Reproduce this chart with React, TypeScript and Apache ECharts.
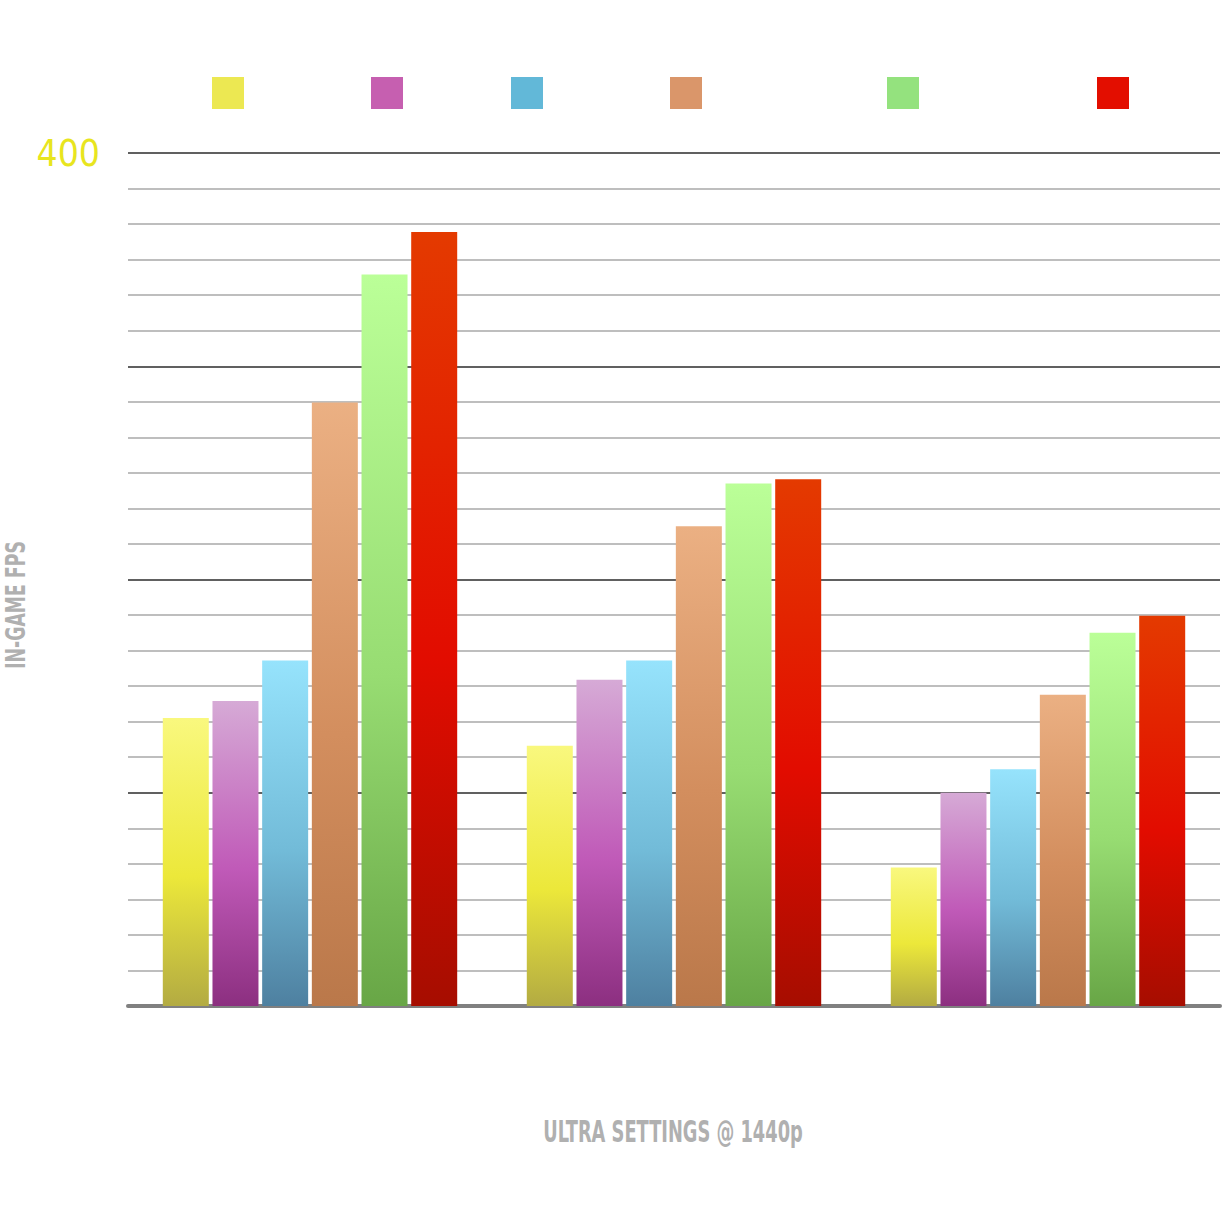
import React, { useEffect, useRef } from "react";
import * as echarts from "echarts";

const categories = ["Game 1", "Game 2", "Game 3"];
const seriesNames = ["GPU A", "GPU B", "GPU C", "GPU D", "GPU E", "GPU F"];
const yellowValues = [135, 122, 65];
const purpleValues = [143, 153, 100];
const blueValues = [162, 162, 111];
const orangeValues = [283, 225, 146];
const greenValues = [343, 245, 175];
const redValues = [363, 247, 183];
const yTicks = [0, 100, 200, 300, 400];
const xAxisTitle = "ULTRA SETTINGS @ 1440p";
const yAxisTitle = "IN-GAME FPS";

const legendColors = ["#ece852", "#c65fb0", "#62b8d8", "#da966a", "#94e27e", "#e30e00"];
const gradients = [
  ["#f9f87e", "#ece83a", "#b3ab42"],
  ["#d6aad6", "#c05ab8", "#8c2f80"],
  ["#96e3fc", "#72bbd8", "#4e80a0"],
  ["#ebb083", "#d38e5e", "#ba784a"],
  ["#bbff98", "#97dc72", "#68a646"],
  ["#e43a00", "#e20c00", "#a60d00"],
];
const legendLefts = [212, 371, 511, 670, 887, 1097];

const FONT = "'DejaVu Sans Condensed', 'DejaVu Sans', sans-serif";

export default function App() {
  const ref = useRef<HTMLDivElement>(null);
  useEffect(() => {
    document.body.style.margin = "0";
    if (!ref.current) return;
    const chart = echarts.init(ref.current, null, { renderer: "svg" });
    const values = [yellowValues, purpleValues, blueValues, orangeValues, greenValues, redValues];
    chart.setOption({
      animation: false,
      backgroundColor: "#ffffff",
      grid: { left: 128, right: 8, top: 153, bottom: 214, containLabel: false },
      legend: seriesNames.map((n, i) => ({
        data: [{ name: n, itemStyle: { color: legendColors[i] } }],
        left: legendLefts[i] - 5,
        top: 72,
        itemWidth: 32,
        itemHeight: 32,
        icon: "rect",
        textStyle: { color: "#ffffff", fontSize: 22, fontFamily: FONT },
        selectedMode: false,
      })),
      xAxis: {
        type: "category",
        data: categories,
        axisLine: { show: true, lineStyle: { color: "#808080", width: 4 } },
        axisTick: { show: false },
        axisLabel: { color: "#ffffff", fontSize: 22, margin: 50, fontFamily: FONT },
        splitLine: { show: false },
      },
      yAxis: {
        type: "value",
        min: yTicks[0],
        max: yTicks[yTicks.length - 1],
        interval: 100,
        axisLine: { show: false },
        axisTick: { show: false },
        axisLabel: {
          margin: 28,
          fontSize: 37,
          fontFamily: FONT,
          color: (v: any) => (Number(v) === 400 ? "#e8e51e" : "#ffffff"),
        },
        splitLine: { show: true, lineStyle: { color: "#606060", width: 2 } },
        minorTick: { show: false, splitNumber: 6 },
        minorSplitLine: { show: true, lineStyle: { color: "#a8a8a8", width: 1.5 } },
      },
      series: seriesNames.map((n, i) => ({
        name: n,
        type: "bar",
        data: values[i],
        barWidth: 46,
        barGap: "8%",
        itemStyle: {
          color: new echarts.graphic.LinearGradient(0, 0, 0, 1, [
            { offset: 0, color: gradients[i][0] },
            { offset: 0.55, color: gradients[i][1] },
            { offset: 1, color: gradients[i][2] },
          ]),
        },
        emphasis: { disabled: true },
      })),
      color: legendColors,
      graphic: [
        {
          type: "text",
          x: 673,
          y: 1131,
          scaleX: 0.66,
          style: {
            text: xAxisTitle,
            fill: "#b0b0b0",
            fontSize: 30,
            fontWeight: "bold",
            fontFamily: FONT,
            align: "center",
            verticalAlign: "middle",
          },
        },
        {
          type: "text",
          x: 16,
          y: 605,
          rotation: Math.PI / 2,
          scaleX: 0.74,
          style: {
            text: yAxisTitle,
            fill: "#b0b0b0",
            fontSize: 26,
            fontWeight: "bold",
            fontFamily: FONT,
            align: "center",
            verticalAlign: "middle",
          },
        },
      ],
    });
    return () => chart.dispose();
  }, []);
  return <div ref={ref} style={{ width: 1228, height: 1220 }} />;
}
